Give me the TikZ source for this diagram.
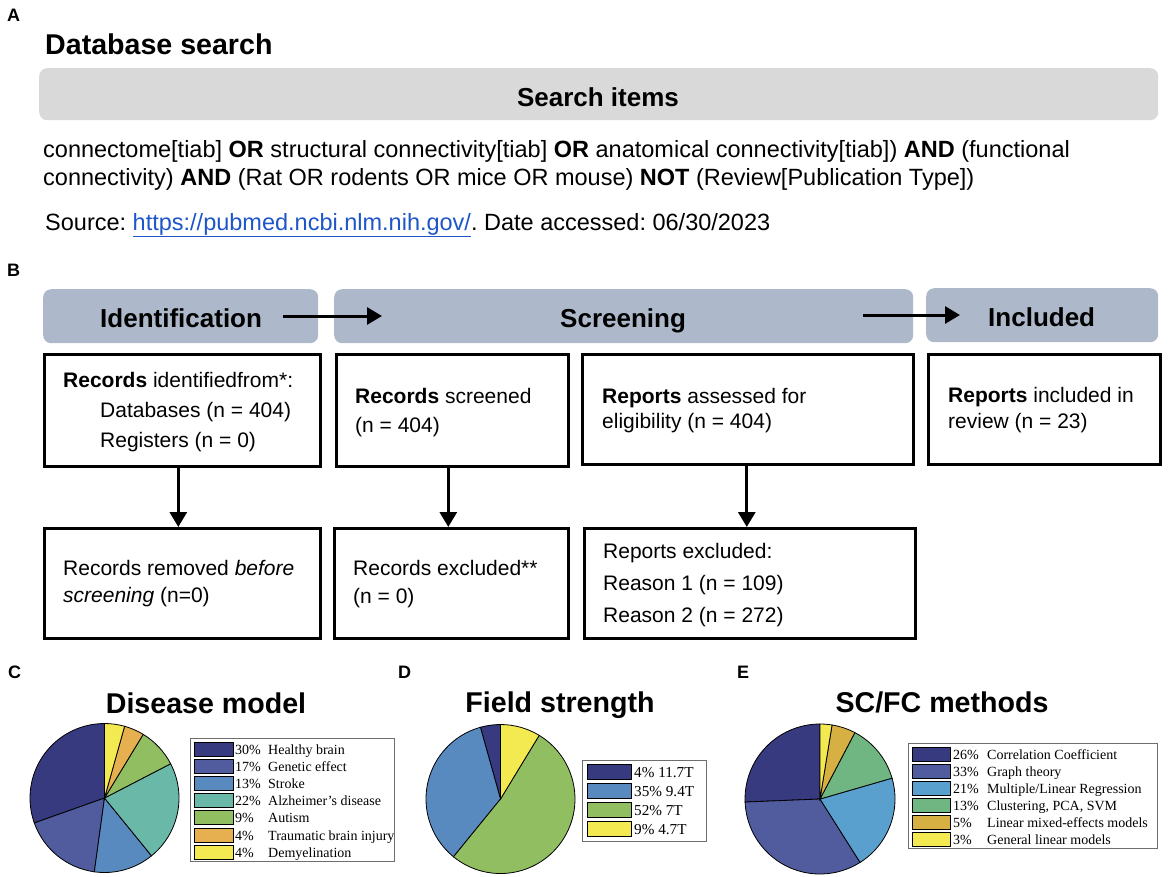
\documentclass[tikz,border=0pt]{standalone}
\usepackage{fontspec}
\setmainfont{Liberation Sans}
\newfontfamily\tms{Liberation Serif}
\usetikzlibrary{arrows.meta}
\frenchspacing
\definecolor{bannerblue}{RGB}{173,185,202}
\definecolor{searchgray}{RGB}{217,217,217}
\definecolor{linkblue}{RGB}{30,85,200}
\definecolor{cnavy}{RGB}{56,58,128}
\definecolor{cindigo}{RGB}{80,92,158}
\definecolor{cblue}{RGB}{88,138,192}
\definecolor{cteal}{RGB}{106,184,168}
\definecolor{cgreen}{RGB}{146,190,98}
\definecolor{corange}{RGB}{230,176,80}
\definecolor{cyellow}{RGB}{242,234,80}
\definecolor{elblue}{RGB}{90,160,206}
\definecolor{egreen}{RGB}{112,182,130}
\definecolor{egold}{RGB}{214,176,66}
\definecolor{leggray}{RGB}{110,110,110}
\newcommand{\myslice}[4]{\filldraw[pieline, fill=#4] (0,0) -- (#1:#3) arc[start angle=#1, end angle=#2, radius=#3] -- cycle;}
\begin{document}
\begin{tikzpicture}[x=1pt,y=-1pt,
  txt/.style={inner sep=0, anchor=base west, font=\fontsize{21}{24}\selectfont},
  srch/.style={inner sep=0, anchor=base west, font=\fontsize{23.5}{28}\selectfont},
  hdr/.style={inner sep=0, anchor=base west, font=\fontsize{26}{30}\selectfont\bfseries},
  panel/.style={inner sep=0, anchor=base west, font=\fontsize{18}{20}\selectfont\bfseries},
  ttl/.style={inner sep=0, anchor=base, font=\fontsize{28.6}{32}\selectfont\bfseries},
  banner/.style={fill=bannerblue, rounded corners=8pt, inner sep=0, anchor=north west},
  box/.style={draw=black, line width=2.6pt, fill=white, inner sep=0, anchor=north west},
  arr/.style={line width=3pt, -{Triangle[length=15pt,width=17pt]}},
  leg/.style={inner sep=0, anchor=base west, font=\tms\fontsize{14}{16}\selectfont},
  legd/.style={inner sep=0, anchor=base west, font=\tms\fontsize{15.2}{17}\selectfont},
  legbox/.style={draw=leggray, line width=0.9pt, fill=white},
  swatch/.style={draw=black, line width=0.7pt},
  pieline/.style={draw=black, line width=0.8pt}
]
\path[use as bounding box] (0,0) rectangle (1169,876);

% ---------- A ----------
\node[panel] (labA) at (7,21) {A};
\node[inner sep=0, anchor=base west, font=\fontsize{28.6}{32}\selectfont\bfseries] (dbs) at (45,54) {Database search};
\node[fill=searchgray, rounded corners=8pt, inner sep=0, anchor=north west, minimum width=1119pt, minimum height=52pt] (sban) at (39,68) {};
\node[inner sep=0, anchor=base, font=\fontsize{26}{30}\selectfont\bfseries] (sitems) at (598,106) {Search items};
\node[srch] (s1) at (43,157) {connectome[tiab] \textbf{OR} structural connectivity[tiab] \textbf{OR} anatomical connectivity[tiab]) \textbf{AND} (functional};
\node[srch] (s2) at (43,185) {connectivity) \textbf{AND} (Rat OR rodents OR mice OR mouse) \textbf{NOT} (Review[Publication Type])};
\node[srch] (s3) at (45,230) {Source: \textcolor{linkblue}{\underline{https://pubmed.ncbi.nlm.nih.gov/}}. Date accessed: 06/30/2023};

% ---------- B ----------
\node[panel] (labB) at (7,276) {B};
\node[banner, minimum width=275pt, minimum height=54pt] (ban1) at (43,289) {};
\node[banner, minimum width=579pt, minimum height=54pt] (ban2) at (334,289) {};
\node[banner, minimum width=232pt, minimum height=54pt] (ban3) at (926,288) {};
\node[hdr] (tid) at (100,327) {Identification};
\node[hdr] (tsc) at (560,327) {Screening};
\node[hdr] (tin) at (988,326) {Included};
\coordinate (h1s) at (283,316);
\coordinate (h1e) at (382,316);
\coordinate (h2s) at (863,315);
\coordinate (h2e) at (960,315);
\draw[arr] (h1s) -- (h1e);
\draw[arr] (h2s) -- (h2e);

\node[box, minimum width=276pt, minimum height=112pt] (b1) at (43,353) {};
\node[box, minimum width=232pt, minimum height=112pt] (b2) at (335,353) {};
\node[box, minimum width=331pt, minimum height=110pt] (b3) at (581,353) {};
\node[box, minimum width=232pt, minimum height=110pt] (b4) at (927,353) {};
\node[box, minimum width=276pt, minimum height=110pt] (c1) at (43,527) {};
\node[box, minimum width=234pt, minimum height=110pt] (c2) at (333,527) {};
\node[box, minimum width=331pt, minimum height=110pt] (c3) at (583,527) {};

\draw[arr] ([xshift=-4pt]b1.south) -- ([xshift=-4pt]c1.north);
\draw[arr] ([xshift=-4pt]b2.south) -- ([xshift=-3pt]c2.north);
\draw[arr] ([xshift=-1pt]b3.south) -- ([xshift=-3pt]c3.north);

\node[txt] (t11) at (63,387) {\textbf{Records} identifiedfrom*:};
\node[txt] (t12) at (100,417) {Databases (n = 404)};
\node[txt] (t13) at (100,447) {Registers (n = 0)};
\node[txt] (t21) at (355,403) {\textbf{Records} screened};
\node[txt] (t22) at (355,432) {(n = 404)};
\node[txt] (t31) at (602,403) {\textbf{Reports} assessed for};
\node[txt] (t32) at (602,428) {eligibility (n = 404)};
\node[txt] (t41) at (948,402) {\textbf{Reports} included in};
\node[txt] (t42) at (948,428) {review (n = 23)};
\node[txt] (u11) at (63,575) {Records removed \textit{before}};
\node[txt] (u12) at (63,602) {\textit{screening} (n=0)};
\node[txt] (u21) at (353,575) {Records excluded**};
\node[txt] (u22) at (353,603) {(n = 0)};
\node[txt] (u31) at (603,558) {Reports excluded:};
\node[txt] (u32) at (603,590) {Reason 1 (n = 109)};
\node[txt] (u33) at (603,622) {Reason 2 (n = 272)};

% ---------- C ----------
\node[panel] (labC) at (8,678) {C};
\node[ttl] (ttlC) at (206,713) {Disease model};
\begin{scope}[shift={(104.5,798)}, yscale=-1]
\myslice{90}{199.565}{74.5}{cnavy}
\myslice{199.565}{262.174}{74.5}{cindigo}
\myslice{262.174}{309.130}{74.5}{cblue}
\myslice{309.130}{387.391}{74.5}{cteal}
\myslice{387.391}{418.696}{74.5}{cgreen}
\myslice{418.696}{434.348}{74.5}{corange}
\myslice{434.348}{450}{74.5}{cyellow}
\end{scope}
\draw[legbox] (190,738) rectangle (394,861);
\foreach \i/\c/\p/\l in {0/cnavy/30\%/Healthy brain, 1/cindigo/17\%/Genetic effect, 2/cblue/13\%/Stroke, 3/cteal/22\%/Alzheimer’s disease, 4/cgreen/9\%/Autism, 5/corange/4\%/Traumatic brain injury, 6/cyellow/4\%/Demyelination}{
  \pgfmathsetmacro{\yc}{749+17.2*\i}
  \draw[swatch, fill=\c] (194,\yc-7) rectangle (233,\yc+7);
  \node[leg] (cp\i) at (235,\yc+5) {\p};
  \node[leg] (cl\i) at (268,\yc+5) {\l};
}

% ---------- D ----------
\node[panel] (labD) at (398,678) {D};
\node[ttl] (ttlD) at (560,712) {Field strength};
\begin{scope}[shift={(500.5,799)}, yscale=-1]
\myslice{90}{105.652}{74.5}{cnavy}
\myslice{105.652}{230.870}{74.5}{cblue}
\myslice{230.870}{418.696}{74.5}{cgreen}
\myslice{418.696}{450}{74.5}{cyellow}
\end{scope}
\draw[legbox] (582,760) rectangle (706,841);
\foreach \i/\c/\l in {0/cnavy/4\% 11.7T, 1/cblue/35\% 9.4T, 2/cgreen/52\% 7T, 3/cyellow/9\% 4.7T}{
  \pgfmathsetmacro{\yc}{772+19*\i}
  \draw[swatch, fill=\c] (587,\yc-7.5) rectangle (631,\yc+7.5);
  \node[legd] (dl\i) at (634,\yc+5.3) {\l};
}

% ---------- E ----------
\node[panel] (labE) at (737,678) {E};
\node[ttl] (ttlE) at (942,712) {SC/FC methods};
\begin{scope}[shift={(820,799)}, yscale=-1]
\myslice{90}{182.308}{75}{cnavy}
\myslice{182.308}{302.308}{75}{cindigo}
\myslice{302.308}{376.154}{75}{elblue}
\myslice{376.154}{422.308}{75}{egreen}
\myslice{422.308}{440.769}{75}{egold}
\myslice{440.769}{450}{75}{cyellow}
\end{scope}
\draw[legbox] (908,743) rectangle (1157,848);
\foreach \i/\c/\p/\l in {0/cnavy/26\%/Correlation Coefficient, 1/cindigo/33\%/Graph theory, 2/elblue/21\%/Multiple\slash Linear Regression, 3/egreen/13\%/{Clustering, PCA, SVM}, 4/egold/5\%/Linear mixed-effects models, 5/cyellow/3\%/General linear models}{
  \pgfmathsetmacro{\yc}{754+17*\i}
  \draw[swatch, fill=\c] (912,\yc-7) rectangle (950,\yc+7);
  \node[leg] (ep\i) at (953,\yc+5) {\p};
  \node[leg] (el\i) at (987,\yc+5) {\l};
}
\end{tikzpicture}
\end{document}
